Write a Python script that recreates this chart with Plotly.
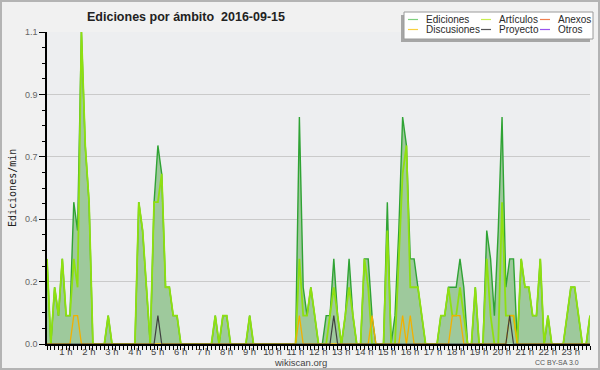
import plotly.graph_objects as go

# ---------------- data (10-minute bins, edits per minute) ----------------
bins = list(range(143))
hour_ticks = [6 * h for h in range(1, 24)]
hour_labels = [f"{h} h" for h in range(1, 24)]
y_ticks = [0, 0.22, 0.44, 0.66, 0.88, 1.1]
y_labels = ["0.0", "0.2", "0.4", "0.7", "0.9", "1.1"]

ediciones = [
    0.3, 0, 0.2, 0.1, 0.3, 0.1, 0.1, 0.5, 0.4, 1.1, 0.7, 0.5,
    0, 0, 0, 0, 0.1, 0, 0, 0, 0, 0, 0, 0,
    0.5, 0.4, 0.2, 0, 0.5, 0.7, 0.6, 0.2, 0.2, 0.1, 0.1, 0,
    0, 0, 0, 0, 0, 0, 0, 0, 0.1, 0, 0.1, 0.1,
    0, 0, 0, 0, 0, 0.1, 0, 0, 0, 0, 0, 0,
    0, 0, 0, 0, 0, 0, 0.8, 0.2, 0.1, 0.2, 0.1, 0,
    0, 0.1, 0.1, 0.3, 0.1, 0, 0.1, 0.3, 0.1, 0, 0, 0.3,
    0.3, 0.1, 0, 0, 0, 0.5, 0, 0.1, 0.4, 0.8, 0.7, 0.3,
    0.3, 0.2, 0.1, 0, 0, 0, 0, 0.1, 0.1, 0.2, 0.2, 0.2,
    0.3, 0.2, 0, 0, 0.2, 0, 0, 0.4, 0.3, 0.1, 0.4, 0.8,
    0.2, 0.3, 0.3, 0, 0.3, 0.2, 0.2, 0.1, 0.1, 0.3, 0, 0.1,
    0, 0, 0, 0, 0.1, 0.2, 0.2, 0.1, 0, 0, 0.1,
]
articulos = [
    0.3, 0, 0.2, 0.1, 0.3, 0.1, 0.1, 0.3, 0.2, 1.1, 0.7, 0.5,
    0, 0, 0, 0, 0.1, 0, 0, 0, 0, 0, 0, 0,
    0.5, 0.4, 0.2, 0, 0.5, 0.5, 0.6, 0.2, 0.2, 0.1, 0.1, 0,
    0, 0, 0, 0, 0, 0, 0, 0, 0.1, 0, 0.1, 0.1,
    0, 0, 0, 0, 0, 0.1, 0, 0, 0, 0, 0, 0,
    0, 0, 0, 0, 0, 0, 0.3, 0.1, 0.1, 0.2, 0.1, 0,
    0, 0, 0.1, 0.2, 0.1, 0, 0.1, 0.2, 0.1, 0, 0, 0.3,
    0.2, 0, 0, 0, 0, 0.4, 0, 0, 0.3, 0.6, 0.7, 0.2,
    0.2, 0.2, 0.1, 0, 0, 0, 0, 0.1, 0.1, 0.2, 0.1, 0.1,
    0.2, 0.1, 0, 0, 0.2, 0, 0, 0.3, 0.1, 0, 0, 0.5,
    0.1, 0.1, 0.1, 0, 0.3, 0.2, 0.2, 0.1, 0.1, 0.3, 0, 0.1,
    0, 0, 0, 0, 0.1, 0.2, 0.2, 0.1, 0, 0, 0.1,
]
anexos = [0] * 143
discusiones = [
    0, 0, 0, 0, 0, 0, 0, 0.1, 0.1, 0, 0, 0,
    0, 0, 0, 0, 0, 0, 0, 0, 0, 0, 0, 0,
    0, 0, 0, 0, 0, 0, 0, 0, 0, 0, 0, 0,
    0, 0, 0, 0, 0, 0, 0, 0, 0, 0, 0, 0,
    0, 0, 0, 0, 0, 0, 0, 0, 0, 0, 0, 0,
    0, 0, 0, 0, 0, 0, 0.1, 0, 0, 0, 0, 0,
    0, 0, 0, 0, 0, 0, 0, 0, 0, 0, 0, 0,
    0, 0.1, 0, 0, 0, 0, 0, 0, 0, 0.1, 0, 0.1,
    0, 0, 0, 0, 0, 0, 0, 0, 0, 0, 0.1, 0.1,
    0.1, 0, 0, 0, 0, 0, 0, 0, 0, 0, 0, 0,
    0, 0.1, 0.1, 0, 0, 0, 0, 0, 0, 0, 0, 0,
    0, 0, 0, 0, 0, 0, 0, 0, 0, 0, 0,
]
proyecto = [
    0, 0, 0, 0, 0, 0, 0, 0, 0, 0, 0, 0,
    0, 0, 0, 0, 0, 0, 0, 0, 0, 0, 0, 0,
    0, 0, 0, 0, 0, 0.1, 0, 0, 0, 0, 0, 0,
    0, 0, 0, 0, 0, 0, 0, 0, 0, 0, 0, 0,
    0, 0, 0, 0, 0, 0, 0, 0, 0, 0, 0, 0,
    0, 0, 0, 0, 0, 0, 0, 0, 0, 0, 0, 0,
    0, 0, 0, 0.1, 0, 0, 0, 0, 0, 0, 0, 0,
    0, 0, 0, 0, 0, 0, 0, 0, 0, 0, 0, 0,
    0, 0, 0, 0, 0, 0, 0, 0, 0, 0, 0, 0,
    0, 0, 0, 0, 0, 0, 0, 0, 0, 0, 0, 0,
    0, 0.1, 0, 0, 0, 0, 0, 0, 0, 0, 0, 0,
    0, 0, 0, 0, 0, 0, 0, 0, 0, 0, 0,
]
otros = [0] * 143

# ---------------- layout geometry ----------------
W, H = 600, 370
L, R, T, B = 47, 10, 32, 26
PW, PH = W - L - R, H - T - B


def px(x):
    return (x - L) / PW


def py(y):
    return (H - B - y) / PH


fig = go.Figure()

fig.add_trace(go.Scatter(x=bins, y=anexos, mode="lines", line=dict(color="#ee7744", width=1), hoverinfo="skip"))
fig.add_trace(go.Scatter(x=bins, y=otros, mode="lines", line=dict(color="#9955ee", width=1), hoverinfo="skip"))
fig.add_trace(go.Scatter(x=bins, y=ediciones, mode="lines", fill="tozeroy",
                         fillcolor="#9ec99c", line=dict(color="#2fa334", width=1.4), hoverinfo="skip"))
fig.add_trace(go.Scatter(x=bins, y=articulos, mode="lines", line=dict(color="#8fe010", width=1.8), hoverinfo="skip"))
fig.add_trace(go.Scatter(x=bins, y=discusiones, mode="lines", line=dict(color="#f2b000", width=1.3), hoverinfo="skip"))
fig.add_trace(go.Scatter(x=bins, y=proyecto, mode="lines", line=dict(color="#404040", width=1.2), hoverinfo="skip"))

shapes = []
# outer frame
shapes.append(dict(type="rect", xref="paper", yref="paper", x0=px(1), x1=px(599), y0=py(369), y1=py(1),
                   line=dict(color="#b4b4b4", width=2), fillcolor="rgba(0,0,0,0)", layer="above"))
# legend shadow + box
shapes.append(dict(type="rect", xref="paper", yref="paper", x0=px(401), x1=px(590), y0=py(42), y1=py(15),
                   line=dict(width=0), fillcolor="#a6a6a6", layer="above"))
shapes.append(dict(type="rect", xref="paper", yref="paper", x0=px(404), x1=px(593), y0=py(39), y1=py(12),
                   line=dict(color="#9a9a9a", width=1), fillcolor="#ffffff", layer="above"))

annotations = []
legend_items = [
    ("Ediciones", "#7fd07f", 408, 19.5),
    ("Artículos", "#c8ee50", 481, 19.5),
    ("Anexos", "#f08050", 540, 19.5),
    ("Discusiones", "#f8d040", 408, 29.5),
    ("Proyecto", "#555555", 481, 29.5),
    ("Otros", "#9955ee", 540, 29.5),
]
for name, col, x0, yy in legend_items:
    shapes.append(dict(type="line", xref="paper", yref="paper", x0=px(x0), x1=px(x0 + 10),
                       y0=py(yy), y1=py(yy), line=dict(color=col, width=1.2), layer="above"))
    annotations.append(dict(text=name, xref="paper", yref="paper", x=px(x0 + 16), y=py(yy),
                            xanchor="left", yanchor="middle", showarrow=False,
                            font=dict(family="Liberation Sans", size=10, color="#2a2a2a")))

annotations.append(dict(text="Ediciones por ámbito\u00a0 2016-09-15", xref="paper", yref="paper",
                        x=px(85), y=py(17), xanchor="left", yanchor="middle", showarrow=False,
                        font=dict(family="Liberation Sans", size=12.5, color="#222222", weight="bold")))
annotations.append(dict(text="Ediciones/min", xref="paper", yref="paper", x=px(12), y=py(188),
                        textangle=-90, xanchor="center", yanchor="middle", showarrow=False,
                        font=dict(family="DejaVu Sans Mono", size=10, color="#222222")))
annotations.append(dict(text="wikiscan.org", xref="paper", yref="paper", x=px(300), y=py(362),
                        xanchor="center", yanchor="middle", showarrow=False,
                        font=dict(family="Liberation Sans", size=9.5, color="#444444")))
annotations.append(dict(text="CC BY-SA 3.0", xref="paper", yref="paper", x=px(557), y=py(362),
                        xanchor="center", yanchor="middle", showarrow=False,
                        font=dict(family="Liberation Sans", size=7, color="#555555")))

fig.update_layout(
    width=W, height=H,
    margin=dict(l=L, r=R, t=T, b=B, pad=0, autoexpand=False),
    paper_bgcolor="#f1f1f1",
    plot_bgcolor="#edeef0",
    showlegend=False,
    shapes=shapes,
    annotations=annotations,
    xaxis=dict(
        range=[0, 142], tickmode="array", tickvals=hour_ticks, ticktext=hour_labels,
        showgrid=False, zeroline=False, showline=True, linecolor="#000000", linewidth=1.5,
        ticks="outside", ticklen=4, tickcolor="#000000", tickwidth=1,
        tickfont=dict(family="Liberation Sans", size=9.5, color="#444444"),
        ticklabelshift=-4, ticklabelstandoff=-6, automargin=False,
        minor=dict(tickmode="linear", tick0=0, dtick=1, ticks="outside", ticklen=4,
                   tickcolor="#000000", tickwidth=1, showgrid=False),
        fixedrange=True,
    ),
    yaxis=dict(
        range=[0, 1.1], tickmode="array", tickvals=y_ticks, ticktext=y_labels,
        showgrid=True, gridcolor="#cacaca", gridwidth=1, zeroline=False,
        showline=True, linecolor="#000000", linewidth=1.5,
        ticks="outside", ticklen=6, tickcolor="#000000", tickwidth=1,
        tickfont=dict(family="Liberation Sans", size=9, color="#666666"),
        automargin=False,
        minor=dict(tickmode="linear", tick0=0, dtick=0.055, ticks="outside", ticklen=3,
                   tickcolor="#000000", tickwidth=1, showgrid=False),
        fixedrange=True,
    ),
)

fig.write_html(
    "out.html",
    config={"displayModeBar": False},
    post_script="document.body.style.margin='0';document.body.style.padding='0';"
                "document.body.style.overflow='hidden';",
)
